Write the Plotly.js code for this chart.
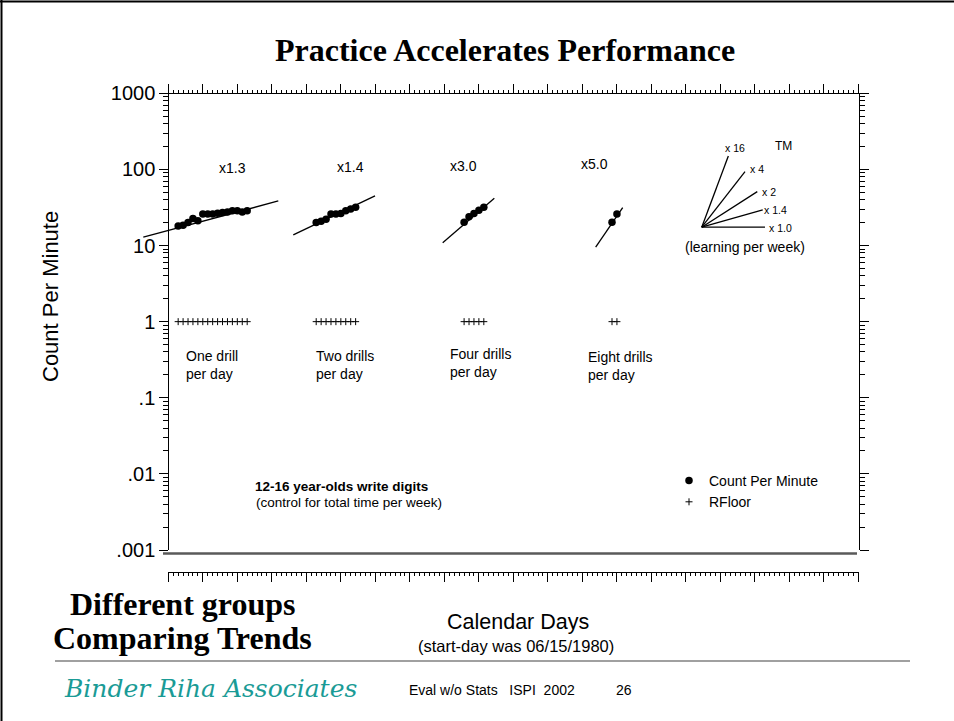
<!DOCTYPE html>
<html>
<head>
<meta charset="utf-8">
<script src="https://cdn.plot.ly/plotly-3.0.1.min.js"></script>
<style>html,body{margin:0;padding:0;background:#fff}#chart{width:954px;height:721px}</style>
</head>
<body>
<div id="chart"></div>
<script>
// ---- data (calendar days since start, counts per minute) ----
const days1 = [2,3,4,5,6,7,8,9,10,11,12,13,14,15,16];
const count1 = [18.1,18.5,20.0,22.6,21.2,26.0,26.0,26.0,26.6,27.1,27.6,28.7,28.7,27.6,28.7];
const days2 = [30,31,32,33,34,35,36,37,38];
const count2 = [20.0,20.9,22.2,26.0,26.0,26.3,28.7,30.3,31.9];
const days3 = [60,61,62,63,64];
const count3 = [20.2,23.8,26.3,29.1,31.9];
const days4 = [90,91];
const count4 = [20.2,26.0];
const rfloor = 1;

// celeration lines (start/end day, start/end value)
const celDays = [[-5.07,22.31],[25.35,41.93],[55.66,66.13],[86.69,92.17]];
const celVals = [[12.85,38.5],[13.8,44.9],[10.9,41.8],[9.5,31.5]];
const celLabels = ['x1.3','x1.4','x3.0','x5.0'];
const groupLabels = ['One drill<br>per day','Two drills<br>per day','Four drills<br>per day','Eight drills<br>per day'];

// celeration fan (learning per week)
const fanOriginDay = 108.2, fanOriginVal = 17.4;
const fanLabels = ['x 16','x 4','x 2','x 1.4','x 1.0'];
const fanEndDay = [113.6,116.98,119.47,120.57,121.03];
const fanEndVal = [150.4,93.6,51.1,29.4,17.4];

// y tick labels
const yTickVals = [0.001,0.01,0.1,1,10,100,1000];
const yTickText = ['.001','.01','.1','1','10','100','1000'];

// ---- geometry helpers (pixel -> paper) ----
const W = 954, H = 721;
const px = x => x / W;
const py = y => 1 - y / H;
const X0 = 168.3, PXD = 4.93;           // day 0 pixel, pixels per day
const plotTop = 93.3, plotBot = 550;

const minorVals = [];
for (let e = -3; e < 3; e++) for (let k = 2; k <= 9; k++) minorVals.push(k * Math.pow(10, e));

const allDays = [].concat(days1, days2, days3, days4);
const allCounts = [].concat(count1, count2, count3, count4);

const traces = [];
traces.push({
  x: allDays, y: allCounts, name: 'Count Per Minute', type: 'scatter', mode: 'markers',
  marker: {symbol: 'circle', size: 7.5, color: '#000'}, xaxis: 'x', yaxis: 'y', hoverinfo: 'skip'
});
traces.push({
  x: allDays, y: allDays.map(() => rfloor), name: 'RFloor', type: 'scatter', mode: 'markers',
  marker: {symbol: 'cross-thin', size: 5, color: '#000', line: {color: '#000', width: 1}},
  xaxis: 'x', yaxis: 'y', hoverinfo: 'skip'
});
celDays.forEach((d, i) => traces.push({
  x: d, y: celVals[i], type: 'scatter', mode: 'lines', showlegend: false,
  line: {color: '#000', width: 1.3}, xaxis: 'x', yaxis: 'y', hoverinfo: 'skip'
}));
fanEndDay.forEach((d, i) => traces.push({
  x: [fanOriginDay, d], y: [fanOriginVal, fanEndVal[i]], type: 'scatter', mode: 'lines', showlegend: false,
  line: {color: '#000', width: 1.3}, xaxis: 'x', yaxis: 'y', hoverinfo: 'skip'
}));
// empty traces so the top / bottom / right axes get drawn
traces.push({x: [], y: [], type: 'scatter', xaxis: 'x2', yaxis: 'y', showlegend: false});
traces.push({x: [], y: [], type: 'scatter', xaxis: 'x3', yaxis: 'y', showlegend: false});
traces.push({x: [], y: [], type: 'scatter', xaxis: 'x2', yaxis: 'y2', showlegend: false});

const ann = [];
const A = (x, y, text, opts) => ann.push(Object.assign({
  xref: 'paper', yref: 'paper', x: px(x), y: py(y), text: text, showarrow: false,
  xanchor: 'center', yanchor: 'middle',
  font: {family: 'Liberation Sans, Arial, sans-serif', size: 14, color: '#000'}
}, opts || {}));

A(505, 50, '<b>Practice Accelerates Performance</b>', {font: {family: 'Liberation Serif, Times New Roman, serif', size: 32, color: '#000'}});
const celLabelPos = [[232,168],[350,167],[463,166],[594,164]];
celLabels.forEach((t, i) => A(celLabelPos[i][0], celLabelPos[i][1], t));
const groupPos = [[184,365],[314,365],[448,363],[586,366]];
groupLabels.forEach((t, i) => A(groupPos[i][0], groupPos[i][1], t, {xanchor: 'left', align: 'left'}));
A(341, 486, '<b>12-16 year-olds write digits</b>', {font: {family: 'Liberation Sans, Arial, sans-serif', size: 13.5, color: '#000'}});
A(349, 502, '(control for total time per week)', {font: {family: 'Liberation Sans, Arial, sans-serif', size: 13.5, color: '#000'}});
const fanLabelPos = [[735,148],[757,169],[769,191.5],[775,210],[780,227.5]];
fanLabels.forEach((t, i) => A(fanLabelPos[i][0], fanLabelPos[i][1], t, {font: {family: 'Liberation Sans, Arial, sans-serif', size: 10.5, color: '#000'}}));
A(783, 146, 'TM', {font: {family: 'Liberation Sans, Arial, sans-serif', size: 12, color: '#000'}});
A(745, 246.5, '(learning per week)');
A(50, 297, 'Count Per Minute', {textangle: -90, font: {family: 'Liberation Sans, Arial, sans-serif', size: 22, color: '#000'}});
A(518, 622, 'Calendar Days', {font: {family: 'Liberation Sans, Arial, sans-serif', size: 21.5, color: '#000'}});
A(516, 646, '(start-day was 06/15/1980)', {font: {family: 'Liberation Sans, Arial, sans-serif', size: 16.5, color: '#000'}});
A(182, 604, '<b>Different groups</b>', {font: {family: 'Liberation Serif, Times New Roman, serif', size: 32, color: '#000'}});
A(182, 638, '<b>Comparing Trends</b>', {font: {family: 'Liberation Serif, Times New Roman, serif', size: 32, color: '#000'}});
A(62, 688, '<i>Binder Riha Associates</i>', {xanchor: 'left', font: {family: 'DejaVu Serif, serif', size: 25, color: '#1a9b96'}});
A(407, 690, 'Eval w/o Stats\u00a0\u00a0\u00a0ISPI\u00a0\u00a02002', {xanchor: 'left', font: {family: 'Liberation Sans Narrow, Liberation Sans, Arial, sans-serif', size: 14, color: '#000'}});
A(614, 690, '26', {xanchor: 'left', font: {family: 'Liberation Sans Narrow, Liberation Sans, Arial, sans-serif', size: 14, color: '#000'}});

const xCommon = {
  range: [0, 140], domain: [px(X0), px(X0 + 140 * PXD)], anchor: 'free',
  showgrid: false, zeroline: false, showline: true, linecolor: '#000', linewidth: 1,
  ticks: 'outside', tickmode: 'linear', tick0: 0, dtick: 7, ticklen: 9, tickwidth: 1, tickcolor: '#000',
  showticklabels: false, fixedrange: true,
  minor: {ticks: 'outside', tickmode: 'linear', tick0: 0, dtick: 1, ticklen: 3, tickwidth: 1, tickcolor: '#000', showgrid: false}
};
const yCommon = {
  type: 'log', range: [-3, 3], domain: [py(plotBot), py(plotTop)], anchor: 'free',
  showgrid: false, zeroline: false, showline: true, linecolor: '#000', linewidth: 1,
  ticks: 'outside', tickmode: 'array', tickvals: yTickVals, ticktext: yTickText,
  ticklen: 9, tickwidth: 1, tickcolor: '#000', fixedrange: true,
  minor: {ticks: 'outside', tickmode: 'array', tickvals: minorVals, ticklen: 5, tickwidth: 1, tickcolor: '#000', showgrid: false}
};

const layout = {
  width: W, height: H, margin: {l: 0, r: 0, t: 0, b: 0},
  paper_bgcolor: '#fff', plot_bgcolor: 'rgba(0,0,0,0)',
  font: {family: 'Liberation Sans, Arial, sans-serif', size: 14, color: '#000'},
  showlegend: true,
  legend: {x: px(669), y: py(465), xanchor: 'left', yanchor: 'top', bgcolor: 'rgba(0,0,0,0)',
           font: {family: 'Liberation Sans, Arial, sans-serif', size: 14, color: '#000'}, tracegroupgap: 0},
  xaxis: {visible: false, domain: [0, 1], range: [-X0 / PXD, (W - X0) / PXD], fixedrange: true, anchor: 'y'},
  xaxis2: Object.assign({}, xCommon, {side: 'top', position: py(plotTop)}),
  xaxis3: Object.assign({}, xCommon, {side: 'bottom', position: py(572.3)}),
  yaxis: Object.assign({}, yCommon, {side: 'left', position: px(X0), showticklabels: true,
         tickfont: {family: 'Liberation Sans, Arial, sans-serif', size: 20, color: '#000'}}),
  yaxis2: Object.assign({}, yCommon, {side: 'right', overlaying: 'y', position: px(X0 + 140 * PXD), showticklabels: false}),
  annotations: ann,
  shapes: [
    {type: 'line', xref: 'paper', yref: 'paper', x0: px(163), x1: px(857), y0: py(553.5), y1: py(553.5), line: {color: '#5a5a5a', width: 2.5}},
    {type: 'line', xref: 'paper', yref: 'paper', x0: px(55), x1: px(910), y0: py(661), y1: py(661), line: {color: '#a0a0a0', width: 2}},
    {type: 'line', xref: 'paper', yref: 'paper', x0: px(1.5), x1: px(1.5), y0: 0, y1: 1, line: {color: '#000', width: 2}},
    {type: 'line', xref: 'paper', yref: 'paper', x0: 0, x1: 1, y0: py(1.5), y1: py(1.5), line: {color: '#000', width: 2}}
  ]
};

Plotly.newPlot('chart', traces, layout, {staticPlot: true, displayModeBar: false});
</script>
</body>
</html>
